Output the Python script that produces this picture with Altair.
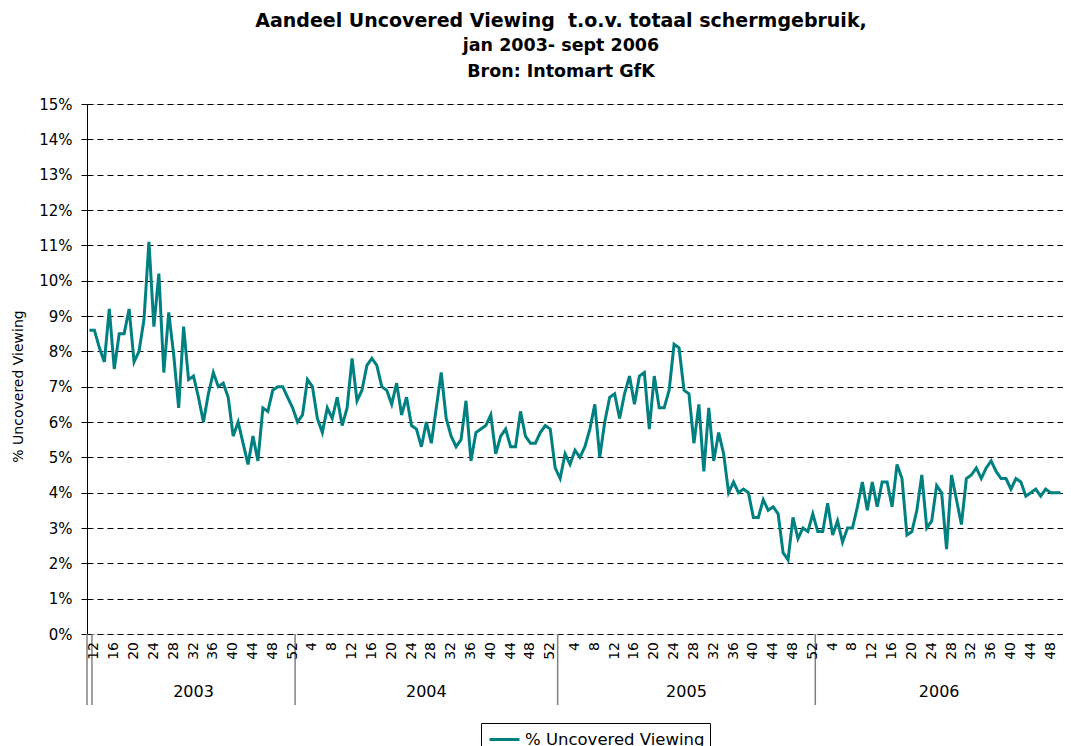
import altair as alt
import pandas as pd

series_name = "% Uncovered Viewing"
title_line = "Aandeel Uncovered Viewing \u00a0t.o.v. totaal schermgebruik,"
subtitle_lines = ["jan 2003- sept 2006", "Bron: Intomart GfK"]
years = ["2003", "2004", "2005", "2006"]
weeks = {
    "2003": list(range(12, 53)),
    "2004": list(range(1, 54)),
    "2005": list(range(1, 53)),
    "2006": list(range(1, 51)),
}
week_labels = {
    "2003": [12, 16, 20, 24, 28, 32, 36, 40, 44, 48, 52],
    "2004": [4, 8, 12, 16, 20, 24, 28, 32, 36, 40, 44, 48, 52],
    "2005": [4, 8, 12, 16, 20, 24, 28, 32, 36, 40, 44, 48, 52],
    "2006": [4, 8, 12, 16, 20, 24, 28, 32, 36, 40, 44, 48],
}
# leading category before the 2003 group
lead_values = [8.6]
v2003 = [8.6, 8.1, 7.7, 9.2, 7.5, 8.5, 8.5, 9.2, 7.7, 8.0,
         8.9, 11.1, 8.7, 10.2, 7.4, 9.1, 7.9, 6.4, 8.7, 7.2,
         7.3, 6.7, 6.0, 6.8, 7.4, 7.0, 7.1, 6.7, 5.6, 6.0,
         5.4, 4.8, 5.6, 4.9, 6.4, 6.3, 6.9, 7.0, 7.0, 6.7,
         6.4]
v2004 = [6.0, 6.2, 7.2, 7.0, 6.1, 5.7, 6.4, 6.1, 6.7, 5.9,
         6.4, 7.8, 6.6, 6.9, 7.6, 7.8, 7.6, 7.0, 6.9, 6.5,
         7.1, 6.2, 6.7, 5.9, 5.8, 5.3, 6.0, 5.4, 6.4, 7.4,
         6.1, 5.6, 5.3, 5.5, 6.6, 4.9, 5.7, 5.8, 5.9, 6.2,
         5.1, 5.6, 5.8, 5.3, 5.3, 6.3, 5.6, 5.4, 5.4, 5.7,
         5.9, 5.8, 4.7]
v2005 = [4.4, 5.1, 4.8, 5.2, 5.0, 5.3, 5.8, 6.5, 5.0, 6.0,
         6.7, 6.8, 6.1, 6.8, 7.3, 6.5, 7.3, 7.4, 5.8, 7.3,
         6.4, 6.4, 6.9, 8.2, 8.1, 6.9, 6.8, 5.4, 6.5, 4.6,
         6.4, 4.9, 5.7, 5.1, 4.0, 4.3, 4.0, 4.1, 4.0, 3.3,
         3.3, 3.8, 3.5, 3.6, 3.4, 2.3, 2.1, 3.3, 2.7, 3.0,
         2.9, 3.4]
v2006 = [2.9, 2.9, 3.7, 2.8, 3.2, 2.6, 3.0, 3.0, 3.6, 4.3,
         3.5, 4.3, 3.6, 4.3, 4.3, 3.6, 4.8, 4.4, 2.8, 2.9,
         3.5, 4.5, 3.0, 3.2, 4.2, 4.0, 2.4, 4.5, 3.8, 3.1,
         4.4, 4.5, 4.7, 4.4, 4.7, 4.9, 4.6, 4.4, 4.4, 4.1,
         4.4, 4.3, 3.9, 4.0, 4.1, 3.9, 4.1, 4.0, 4.0, 4.0]
values_by_year = {"2003": v2003, "2004": v2004, "2005": v2005, "2006": v2006}

# ---- build tables ----
rows = []
idx = 0
for v in lead_values:
    rows.append({"idx": idx, "year": "", "week": None, "pct": v / 100, "series": series_name})
    idx += 1
year_start = {}
for y in years:
    year_start[y] = idx
    for w, v in zip(weeks[y], values_by_year[y]):
        rows.append({"idx": idx, "year": y, "week": w, "pct": v / 100, "series": series_name})
        idx += 1
n = idx
df = pd.DataFrame(rows)

lab_rows = []
for y in years:
    for w in week_labels[y]:
        lab_rows.append({"idx": year_start[y] + weeks[y].index(w), "label": str(w)})
lab_df = pd.DataFrame(lab_rows)

year_df = pd.DataFrame([
    {"pos": year_start[y] + (len(weeks[y]) - 1) / 2, "year": y} for y in years
])
sep_df = pd.DataFrame({"pos": [-0.5] + [year_start[y] - 0.5 for y in years]})

W, H = 976, 530
xscale = alt.Scale(domain=[-0.5, n - 0.5], nice=False, zero=False)
FONT = "DejaVu Sans"

line = alt.Chart(df).mark_line(strokeWidth=3).encode(
    x=alt.X("idx:Q", scale=xscale,
            axis=alt.Axis(values=[i - 0.5 for i in range(n + 1)], labels=False,
                          tickSize=4, tickColor="black", domainColor="black",
                          grid=False, title=None)),
    y=alt.Y("pct:Q", scale=alt.Scale(domain=[0, 0.15], nice=False),
            axis=alt.Axis(values=[i / 100 for i in range(16)], format=".0%",
                          grid=True, gridDash=[6, 4], gridColor="black", gridWidth=1,
                          tickSize=6, tickColor="black", domainColor="black",
                          labelPadding=9, labelFontSize=15, labelFont=FONT, labelColor="black",
                          title="% Uncovered Viewing", titleFontSize=14, titleFont=FONT,
                          titleFontWeight="normal", titleColor="black",
                          titleX=-69, titleY=282, titleAngle=270, titleBaseline="middle")),
    color=alt.Color("series:N", scale=alt.Scale(range=["#008080"]),
                    legend=alt.Legend(orient="none", legendX=394, legendY=619, title=None,
                                      symbolType="M-0.8,0L2.2,0", symbolSize=400,
                                      symbolStrokeWidth=3,
                                      labelFontSize=16.5, labelFont=FONT, labelColor="black",
                                      labelLimit=400,
                                      strokeColor="black", fillColor="white", padding=5,
                                      labelOffset=16)),
)

week_text = alt.Chart(lab_df).mark_text(
    angle=270, align="right", baseline="middle", fontSize=14, font=FONT, color="black"
).encode(x=alt.X("idx:Q", scale=xscale, axis=None), y=alt.value(H + 8), text="label:N")

year_text = alt.Chart(year_df).mark_text(
    baseline="middle", fontSize=16, font=FONT, color="black"
).encode(x=alt.X("pos:Q", scale=xscale, axis=None), y=alt.value(H + 58), text="year:N")

seps = alt.Chart(sep_df).mark_rule(color="#808080", strokeWidth=1.5).encode(
    x=alt.X("pos:Q", scale=xscale, axis=None), y=alt.value(H), y2=alt.value(H + 71)
)

chart = alt.layer(seps, line, week_text, year_text).properties(
    width=W, height=H,
    title=alt.TitleParams(text=title_line, subtitle=subtitle_lines,
                          fontSize=19, font=FONT, fontWeight="bold", color="black",
                          subtitleFontSize=17.5, subtitleFont=FONT, subtitleFontWeight="bold",
                          subtitleColor="black", subtitleLineHeight=25.5, subtitlePadding=6,
                          anchor="middle", baseline="top", offset=17, dx=-14),
    autosize=alt.AutoSizeParams(type="none"),
    padding={"left": 79, "top": 96, "right": 0, "bottom": 112},
).configure_view(stroke=None).configure(background="white")

chart.save("out.html", embed_options={"renderer": "svg", "actions": False})
